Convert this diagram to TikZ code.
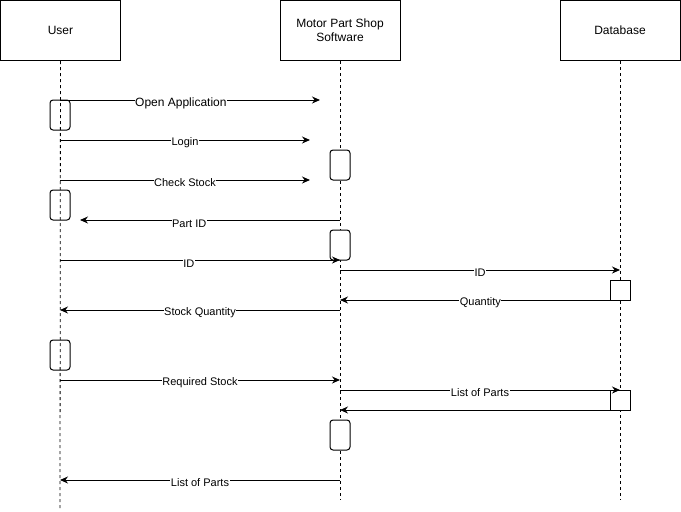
\documentclass[tikz,border=0pt]{standalone}
\usepackage{fontspec}
\setmainfont{Liberation Sans}
\usetikzlibrary{arrows.meta}

\begin{document}
\begin{tikzpicture}
  [x=1pt,y=-1pt,line width=1pt,
   actor/.style={draw,minimum width=120pt,minimum height=60pt,align=center,font=\fontsize{12}{14}\selectfont},
   act/.style={draw,rounded corners=3pt,minimum width=20pt,minimum height=30pt,inner sep=0pt},
   dbact/.style={draw,fill=white,minimum size=20pt,inner sep=0pt},
   msg/.style={-{Stealth[length=8pt,width=7pt]}},
   lbl/.style={fill=white,inner sep=0.5pt,font=\fontsize{11}{13}\selectfont}]
  \useasboundingbox (0,0) rectangle (681,512);
  \node[actor] (user) at (60.5,30.5) {User};
  \node[actor] (sw) at (340,30.5) {Motor Part Shop\\Software};
  \node[actor] (db) at (620,30.5) {Database};
  % lifelines
  \coordinate (userend) at (60,510);
  \coordinate (swend) at (340,500);
  \coordinate (dbend) at (620,500);
  \foreach \from/\to in {user/userend,sw/swend,db/dbend}
    \draw[dash pattern=on 3pt off 3pt,line width=0.8pt] (\from) -- (\to);
  % activations
  \node[act] (u1) at (60,115) {};
  \node[act] (u2) at (60,205) {};
  \node[act] (u3) at (60,355) {};
  \node[act,fill=white] (s1) at (340,165) {};
  \node[act,fill=white] (s2) at (340,245) {};
  \node[act,fill=white] (s3) at (340,435) {};
  \node[dbact] (d1) at (620,290) {};
  \node[dbact] (d2) at (620,400) {};
  % messages
  \foreach \n/\xa/\xb/\y/\p/\dy/\txt in {
      1/60/320/100/0.465/-3/{\fontsize{12}{14}\selectfont Open Application},
      2/60/310/140/0.5/-2.5/Login,
      3/60/310/180/0.5/-2.5/Check Stock,
      4/340/80/220/0.58/-4/Part ID,
      5/60/340/260/0.46/-4/ID,
      6/340/620/270/0.5/-2.5/ID,
      7/610/340/300/0.48/-2.5/Quantity,
      8/340/60/310/0.5/-2.5/Stock Quantity,
      9/60/340/380/0.5/-2.5/Required Stock,
      10/340/620/390/0.5/-2.5/List of Parts,
      12/340/60/480/0.5/-2.5/List of Parts} {
    \coordinate (m\n a) at (\xa,\y);
    \coordinate (m\n b) at (\xb,\y);
    \draw[msg] (m\n a) -- node[lbl,pos=\p,yshift=\dy pt] {\txt} (m\n b);
  }
  \coordinate (m11a) at (610,410);
  \coordinate (m11b) at (340,410);
  \draw[msg] (m11a) -- (m11b);
\end{tikzpicture}
\end{document}
